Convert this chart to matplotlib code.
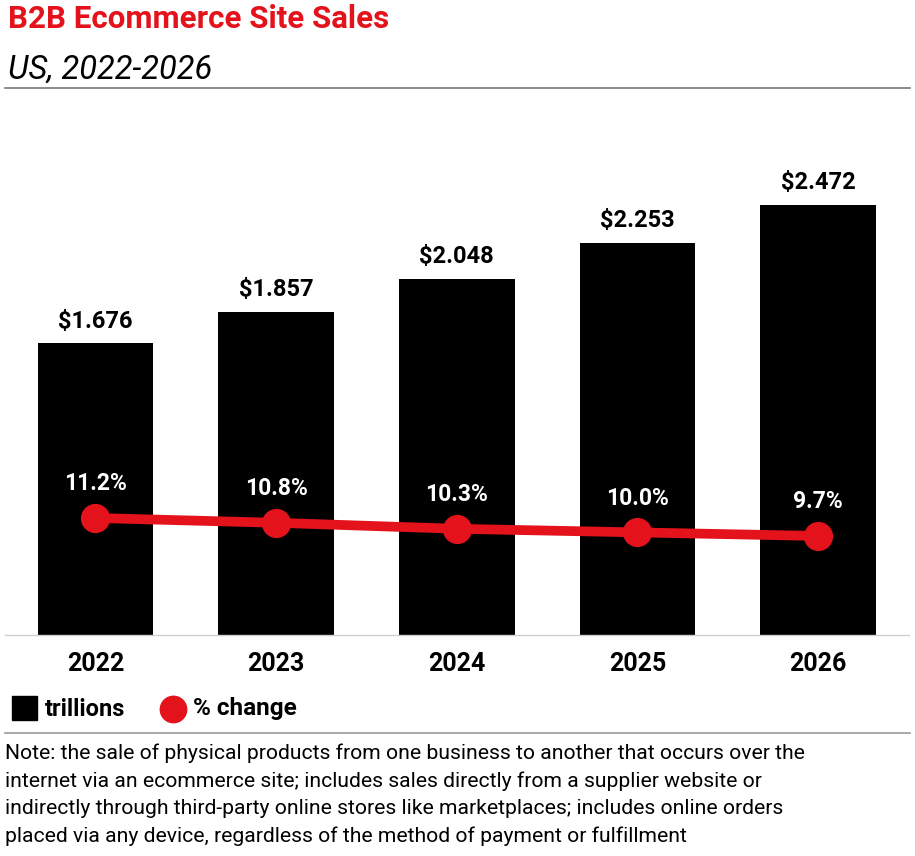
import matplotlib.pyplot as plt
from matplotlib.lines import Line2D

years = ['2022', '2023', '2024', '2025', '2026']
sales = [1.676, 1.857, 2.048, 2.253, 2.472]
pct_change = [11.2, 10.8, 10.3, 10.0, 9.7]

red = '#e3121b'
plt.rcParams['font.family'] = ['Roboto', 'DejaVu Sans']

fig = plt.figure(figsize=(9.15, 8.56), dpi=100)
ax = fig.add_axes([0.0055, 0.2582, 0.9874, 0.5666])
x = range(len(years))
ax.bar(x, sales, width=0.64, color='black', zorder=2)
for i, v in enumerate(sales):
    ax.text(i, v + 0.06, f'${v:.3f}', ha='center', va='bottom',
            fontsize=17, fontweight='bold')
ax.set_xlim(-0.5, 4.5)
ax.set_ylim(0, 2.787)
ax.set_yticks([])
ax.set_xticks(list(x))
ax.set_xticklabels(years, fontsize=18, fontweight='bold')
ax.tick_params(axis='x', length=0, pad=12)
for s in ['top', 'right', 'left']:
    ax.spines[s].set_visible(False)
ax.spines['bottom'].set_color('#d0d0d0')
ax.spines['bottom'].set_linewidth(1)

ax2 = ax.twinx()
ax2.plot(list(x), pct_change, color=red, linewidth=7, marker='o',
         markersize=20, zorder=3)
for i, v in enumerate(pct_change):
    ax2.text(i, v + 1.9, f'{v:.1f}%', ha='center', va='bottom',
             fontsize=16.5, fontweight='bold', color='white')
ax2.set_ylim(1.45, 41.87)
ax2.set_yticks([])
for s in ax2.spines.values():
    s.set_visible(False)

# header
fig.text(0.009, 0.978, 'B2B Ecommerce Site Sales', fontsize=22.5,
         fontweight='bold', color=red, va='center')
fig.text(0.009, 0.919, 'US, 2022-2026', fontsize=23.5, fontstyle='italic',
         va='center')
fig.add_artist(Line2D([0.0055, 0.995], [0.897, 0.897], color='#777777', lw=1.2))

# legend
fig.patches.append(plt.Rectangle((12 / 915, 1 - 720 / 856), 25 / 915, 24 / 856,
                                 transform=fig.transFigure, color='black'))
fig.text(45 / 915, 1 - 709 / 856, 'trillions', fontsize=17, fontweight='bold',
         va='center')
fig.add_artist(Line2D([173 / 915], [1 - 709 / 856], marker='o', markersize=19,
                      color=red, lw=0))
fig.text(193 / 915, 1 - 709 / 856, '% change', fontsize=17.5, fontweight='bold',
         va='center')
fig.add_artist(Line2D([0.0055, 0.995], [1 - 733 / 856, 1 - 733 / 856],
                      color='#999999', lw=1.2))

note = ('Note: the sale of physical products from one business to another that occurs over the\n'
        'internet via an ecommerce site; includes sales directly from a supplier website or\n'
        'indirectly through third-party online stores like marketplaces; includes online orders\n'
        'placed via any device, regardless of the method of payment or fulfillment')
fig.text(0.006, 1 - 743 / 856, note, fontsize=15.2, va='top', linespacing=1.56)

fig.savefig('out.png', dpi=100)
